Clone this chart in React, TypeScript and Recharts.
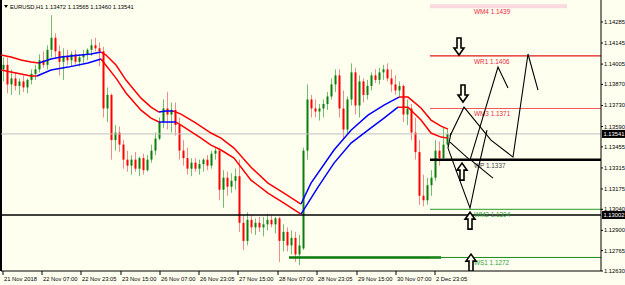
import { ComposedChart, Bar, Line, XAxis, YAxis, ReferenceLine } from 'recharts'

// OHLC per H1 bar (compressed)
const candles: [number, number, number, number][] = [
  [1.1397, 1.1405, 1.1389, 1.1400], [1.1400, 1.1405, 1.1381, 1.1387], [1.1387, 1.1397, 1.1380, 1.1391],
  [1.1391, 1.1395, 1.1383, 1.1386], [1.1386, 1.1391, 1.1380, 1.1389], [1.1389, 1.1393, 1.1382, 1.1385],
  [1.1385, 1.1391, 1.1381, 1.1390], [1.1390, 1.1397, 1.1387, 1.1394], [1.1394, 1.1400, 1.1390, 1.1397],
  [1.1397, 1.1407, 1.1395, 1.1403], [1.1403, 1.1409, 1.1398, 1.1400], [1.1400, 1.1413, 1.1397, 1.1410],
  [1.1410, 1.1433, 1.1405, 1.1418], [1.1418, 1.1421, 1.1405, 1.1409], [1.1409, 1.1413, 1.1393, 1.1402],
  [1.1402, 1.1411, 1.1390, 1.1406], [1.1406, 1.1410, 1.1400, 1.1403], [1.1403, 1.1409, 1.1399, 1.1407],
  [1.1407, 1.1410, 1.1400, 1.1402], [1.1402, 1.1407, 1.1399, 1.1405], [1.1405, 1.1410, 1.1401, 1.1407],
  [1.1407, 1.1411, 1.1403, 1.1410], [1.1410, 1.1417, 1.1406, 1.1413], [1.1413, 1.1418, 1.1409, 1.1411],
  [1.1411, 1.1415, 1.1399, 1.1409], [1.1409, 1.1412, 1.1365, 1.1371], [1.1371, 1.1385, 1.1362, 1.1380],
  [1.1380, 1.1381, 1.1337, 1.1350], [1.1350, 1.1360, 1.1343, 1.1355], [1.1355, 1.1359, 1.1342, 1.1347],
  [1.1347, 1.1350, 1.1331, 1.1337], [1.1337, 1.1343, 1.1329, 1.1333], [1.1333, 1.1340, 1.1327, 1.1337],
  [1.1337, 1.1342, 1.1329, 1.1331], [1.1331, 1.1339, 1.1326, 1.1338], [1.1338, 1.1341, 1.1327, 1.1330],
  [1.1330, 1.1340, 1.1329, 1.1337], [1.1337, 1.1347, 1.1335, 1.1343], [1.1343, 1.1355, 1.1340, 1.1351],
  [1.1351, 1.1365, 1.1350, 1.1362], [1.1362, 1.1377, 1.1358, 1.1371], [1.1371, 1.1382, 1.1357, 1.1367],
  [1.1367, 1.1375, 1.1355, 1.1370], [1.1370, 1.1375, 1.1353, 1.1360], [1.1360, 1.1365, 1.1337, 1.1343],
  [1.1343, 1.1350, 1.1333, 1.1338], [1.1338, 1.1345, 1.1327, 1.1331], [1.1331, 1.1338, 1.1326, 1.1335],
  [1.1335, 1.1338, 1.1329, 1.1331], [1.1331, 1.1337, 1.1327, 1.1334], [1.1334, 1.1338, 1.1329, 1.1337],
  [1.1337, 1.1340, 1.1330, 1.1333], [1.1333, 1.1343, 1.1331, 1.1341], [1.1341, 1.1345, 1.1337, 1.1343],
  [1.1343, 1.1345, 1.1310, 1.1317], [1.1317, 1.1330, 1.1305, 1.1325], [1.1325, 1.1329, 1.1313, 1.1319],
  [1.1319, 1.1328, 1.1315, 1.1323], [1.1323, 1.1331, 1.1317, 1.1326], [1.1326, 1.1337, 1.1289, 1.1295],
  [1.1295, 1.1300, 1.1277, 1.1283], [1.1283, 1.1302, 1.1280, 1.1297], [1.1297, 1.1300, 1.1288, 1.1292],
  [1.1292, 1.1298, 1.1287, 1.1295], [1.1295, 1.1299, 1.1289, 1.1292], [1.1292, 1.1299, 1.1286, 1.1294],
  [1.1294, 1.1301, 1.1290, 1.1297], [1.1297, 1.1300, 1.1292, 1.1294], [1.1294, 1.1299, 1.1288, 1.1298],
  [1.1298, 1.1299, 1.1269, 1.1283], [1.1283, 1.1294, 1.1276, 1.1289], [1.1289, 1.1292, 1.1276, 1.1280],
  [1.1280, 1.1290, 1.1274, 1.1285], [1.1285, 1.1289, 1.1269, 1.1274], [1.1274, 1.1287, 1.1267, 1.1280],
  [1.1278, 1.1345, 1.1277, 1.1343], [1.1343, 1.1387, 1.1337, 1.1377], [1.1377, 1.1380, 1.1365, 1.1371],
  [1.1371, 1.1377, 1.1365, 1.1369], [1.1369, 1.1374, 1.1363, 1.1371], [1.1371, 1.1377, 1.1365, 1.1374],
  [1.1374, 1.1382, 1.1370, 1.1379], [1.1379, 1.1391, 1.1377, 1.1387], [1.1387, 1.1397, 1.1382, 1.1393],
  [1.1393, 1.1397, 1.1365, 1.1371], [1.1371, 1.1383, 1.1350, 1.1357], [1.1357, 1.1379, 1.1354, 1.1377],
  [1.1377, 1.1401, 1.1373, 1.1395], [1.1395, 1.1398, 1.1367, 1.1373], [1.1373, 1.1393, 1.1365, 1.1389],
  [1.1389, 1.1391, 1.1375, 1.1380], [1.1380, 1.1390, 1.1377, 1.1386], [1.1386, 1.1395, 1.1383, 1.1393],
  [1.1393, 1.1397, 1.1388, 1.1390], [1.1390, 1.1398, 1.1387, 1.1395], [1.1395, 1.1400, 1.1390, 1.1397],
  [1.1397, 1.1401, 1.1389, 1.1391], [1.1391, 1.1397, 1.1382, 1.1387], [1.1387, 1.1393, 1.1380, 1.1383],
  [1.1383, 1.1389, 1.1378, 1.1386], [1.1386, 1.1387, 1.1362, 1.1367], [1.1367, 1.1377, 1.1360, 1.1371],
  [1.1371, 1.1374, 1.1350, 1.1355], [1.1355, 1.1365, 1.1337, 1.1342], [1.1342, 1.1350, 1.1307, 1.1313],
  [1.1313, 1.1327, 1.1306, 1.1310], [1.1310, 1.1325, 1.1307, 1.1320], [1.1320, 1.1330, 1.1313, 1.1325],
  [1.1325, 1.1350, 1.1323, 1.1343], [1.1343, 1.1349, 1.1333, 1.1338], [1.1338, 1.1358, 1.1336, 1.1347],
  [1.1347, 1.1357, 1.1346, 1.1354],
]

// moving-average envelope: [bar, price]; colour flips (red <-> blue) at the turn bars
const maUpper: [number, number][] = [
  [0, 1.14065], [2.5, 1.14052], [5, 1.14032], [7.5, 1.14019], [9.5, 1.14012], [12.5, 1.14039],
  [15, 1.14052], [17.5, 1.14059], [20, 1.14065], [22.5, 1.14072], [25, 1.14085], [26.25, 1.14065],
  [28.75, 1.13999], [31.25, 1.13899], [35, 1.13779], [37.5, 1.13719], [39.5, 1.13686], [41.25, 1.13693],
  [43, 1.13693], [45, 1.13673], [48.75, 1.13613], [52.5, 1.13547], [55, 1.13513], [58.25, 1.13447],
  [62.5, 1.1332], [66.75, 1.13214], [70.75, 1.13148], [75, 1.13075], [77.5, 1.13214], [83.25, 1.13434],
  [87.5, 1.13566], [91.75, 1.13666], [95.75, 1.13733], [99.5, 1.13786], [101.75, 1.13786], [105, 1.13713],
  [107.5, 1.13633], [110, 1.13593], [111.75, 1.13573],
]
const maUpperTurns = [9.5, 25, 39.5, 43, 75, 99.5]
const maLower: [number, number][] = [
  [0, 1.13966], [2.5, 1.13952], [5, 1.13939], [7.5, 1.13926], [9, 1.13926], [12.5, 1.13966],
  [16.75, 1.13985], [21.75, 1.14012], [25, 1.14039], [28.75, 1.13912], [31.25, 1.13813], [35, 1.13699],
  [37.5, 1.13646], [39.5, 1.1362], [43.75, 1.1362], [45, 1.136], [50, 1.13513], [52.5, 1.13467],
  [55, 1.13434], [58.25, 1.1338], [62.5, 1.13234], [66.75, 1.13148], [70.75, 1.13081], [75, 1.13008],
  [79.25, 1.13188], [83.25, 1.13347], [87.5, 1.1348], [91.75, 1.13566], [95.75, 1.13646], [99.25, 1.13719],
  [101.75, 1.13719], [105, 1.13633], [107.5, 1.13547], [110, 1.1352], [111.75, 1.13513],
]
const maLowerTurns = [9, 25, 39.5, 43.75, 75, 99.25]

// weekly pivot levels
const levels = [
  { name: 'WM4', price: 1.1439 },
  { name: 'WR1', price: 1.1406 },
  { name: 'WM3', price: 1.1371 },
  { name: 'WP', price: 1.1337 },
  { name: 'WM2', price: 1.1304 },
  { name: 'WS1', price: 1.1272 },
]
const bidPrice = 1.13541
const markPrice = 1.13002

// hand-drawn scenarios: [bar, price]
const scenarios: [number, number][][] = [
  [[112.25, 1.13527], [115.75, 1.13719], [122.5, 1.135], [128, 1.13387], [131.75, 1.14072], [134.25, 1.13832]],
  [[112.25, 1.13487], [117.25, 1.13367], [124.25, 1.13985], [126.75, 1.13846]],
  [[112.5, 1.13547], [111.75, 1.13447], [113.75, 1.133], [117.25, 1.13048], [119.5, 1.13334], [121.5, 1.13566]],
  [[117.5, 1.13367], [123, 1.13247]],
]
const arrowsDown: [number, number][] = [[114.5, 1.14065], [115.5, 1.13753]]
const arrowsUp: [number, number][] = [[115.25, 1.13347], [117.25, 1.13021], [117.5, 1.12742]]

const yTicks = [1.1263, 1.12765, 1.129, 1.1304, 1.13175, 1.13315, 1.13455, 1.1359, 1.1373, 1.1387, 1.14005, 1.14145, 1.14285]
const xTickBars = [0.5, 10.25, 20, 30, 39.75, 49.5, 59.25, 69.25, 79, 89, 98.75, 108.5]
const xTickLabels = ['21 Nov 2018', '22 Nov 07:00', '22 Nov 23:05', '23 Nov 15:00', '26 Nov 07:00', '26 Nov 23:05',
  '27 Nov 15:00', '28 Nov 07:00', '28 Nov 23:05', '29 Nov 15:00', '30 Nov 07:00', '2 Dec 23:05']

const BG = '#fffff0'
const FONT = 'Liberation Sans, Arial, sans-serif'
const BULL = '#0b7d0b'
const BEAR = '#ff0000'

const levelStyle: Record<string, { stroke: string; width: number; text: string; end?: number }> = {
  WM4: { stroke: '#fbd7df', width: 4, text: '#e8283c', end: 141.5 },
  WR1: { stroke: '#e01818', width: 1.2, text: '#e8283c' },
  WM3: { stroke: '#f05a5a', width: 1, text: '#e8283c' },
  WP: { stroke: '#000000', width: 2.5, text: '#444444' },
  WM2: { stroke: '#2a9a2a', width: 1, text: '#2e9e3e' },
  WS1: { stroke: '#1c8a1c', width: 1, text: '#2e9e3e' },
}
const LEVEL_START = 107.25

const chartData = candles.map(([o, h, l, c], i) => ({ x: i + 0.5, o, h, l, c }))
const toPts = (arr: [number, number][]) => arr.map(([x, p]) => ({ x, p }))

function splitByTurns(points: [number, number][], turns: number[]) {
  const segs: [number, number][][] = []
  let cur: [number, number][] = []
  points.forEach((pt) => {
    cur.push(pt)
    if (turns.includes(pt[0])) {
      segs.push(cur)
      cur = [pt]
    }
  })
  segs.push(cur)
  return segs
}

const Candle = (props: any) => {
  const { x, y, width, height, payload } = props
  if (!payload) return null
  const { o, h, l, c } = payload
  const top = Math.min(y, y + height)
  const hh = Math.abs(height)
  const k = h > l ? hh / (h - l) : 0
  const yOf = (v: number) => top + (h - v) * k
  const cx = Math.round(x + width / 2) + 0.5
  const up = c >= o
  const b1 = yOf(Math.max(o, c))
  const b2 = yOf(Math.min(o, c))
  return (
    <g>
      <line x1={cx} x2={cx} y1={top} y2={top + hh} stroke={up ? '#6fbf6f' : '#f58a8a'} strokeWidth={1} />
      <rect x={cx - 1} y={b1} width={2} height={Math.max(1, b2 - b1)} fill={up ? BULL : BEAR} />
    </g>
  )
}

const XTick = ({ x, y, payload }: any) => {
  const idx = xTickBars.indexOf(payload.value)
  return (
    <g>
      <line x1={x} x2={x} y1={y} y2={y + 4} stroke="#000" strokeWidth={1} />
      <text x={x + 1} y={y + 10} fontSize={5.8} fontFamily={FONT} fill="#000" textAnchor="start">
        {xTickLabels[idx]}
      </text>
    </g>
  )
}

const YTick = ({ x, y, payload }: any) => (
  <g>
    <line x1={x} x2={x + 2} y1={y} y2={y} stroke="#000" strokeWidth={1} />
    <text x={x + 3} y={y + 2} fontSize={5.8} fontFamily={FONT} fill="#000" textAnchor="start">
      {payload.value.toFixed(5)}
    </text>
  </g>
)

const PriceBox = ({ viewBox, value }: any) => {
  if (!viewBox) return null
  const bx = viewBox.x + viewBox.width
  return (
    <g>
      <rect x={bx + 1} y={viewBox.y - 4} width={24} height={8} fill="#000" />
      <text x={bx + 2.5} y={viewBox.y + 2} fontSize={5.8} fontFamily={FONT} fill="#fff">
        {value}
      </text>
    </g>
  )
}

const LevelLabel = ({ viewBox, text, color }: any) => {
  if (!viewBox) return null
  return (
    <text x={viewBox.x + 44} y={viewBox.y + 8} fontSize={6.4} fontFamily={FONT} fill={color}>
      {text}
    </text>
  )
}

const Arrow = ({ cx, cy, dir }: any) => {
  if (cx == null || cy == null) return null
  const s = dir === 'down' ? -1 : 1
  const pts = [
    [0, 0], [-5, 7], [-2, 7], [-2, 17], [2, 17], [2, 7], [5, 7],
  ].map(([dx, dy]) => `${cx + dx},${cy + s * dy}`).join(' ')
  return <polygon points={pts} fill={BG} stroke="#000" strokeWidth={1.6} strokeLinejoin="miter" />
}

export default function App() {
  const upperSegs = splitByTurns(maUpper, maUpperTurns)
  const lowerSegs = splitByTurns(maLower, maLowerTurns)
  return (
    <div style={{ position: 'fixed', left: 0, top: 0, width: 625, height: 285, background: BG }}>
      <ComposedChart width={625} height={285} data={chartData} margin={{ top: 0, right: 0, bottom: 0, left: 1 }}>
        <XAxis
          type="number"
          dataKey="x"
          domain={[0, 150]}
          ticks={xTickBars}
          interval={0}
          tick={<XTick />}
          tickLine={false}
          tickSize={0}
          tickMargin={0}
          axisLine={{ stroke: '#000', strokeWidth: 1 }}
          height={14}
          allowDataOverflow
        />
        <YAxis
          orientation="right"
          domain={[1.1263, 1.14431]}
          ticks={yTicks}
          interval={0}
          tick={<YTick />}
          tickLine={false}
          tickSize={0}
          tickMargin={0}
          axisLine={{ stroke: '#000', strokeWidth: 1 }}
          width={24}
          allowDataOverflow
        />
        <ReferenceLine x={0} stroke="#000" strokeWidth={2} />
        <ReferenceLine y={bidPrice} stroke="#c0c0c0" strokeWidth={1} label={<PriceBox value={bidPrice.toFixed(5)} />} />
        <ReferenceLine y={markPrice} stroke="#000" strokeWidth={1.4} label={<PriceBox value={markPrice.toFixed(5)} />} />
        <ReferenceLine
          segment={[{ x: 72, y: levels[5].price }, { x: 110, y: levels[5].price }]}
          stroke="#0a7a0a"
          strokeWidth={2.5}
        />
        {levels.map((lv) => {
          const st = levelStyle[lv.name]
          return (
            <ReferenceLine
              key={lv.name}
              segment={[{ x: LEVEL_START, y: lv.price }, { x: st.end ?? 150, y: lv.price }]}
              stroke={st.stroke}
              strokeWidth={st.width}
              label={<LevelLabel text={`${lv.name} ${lv.price.toFixed(4)}`} color={st.text} />}
            />
          )
        })}
        <Bar dataKey={(d: any) => [d.l, d.h]} shape={<Candle />} barSize={3} isAnimationActive={false} />
        {upperSegs.map((seg, i) => (
          <Line key={`u${i}`} data={toPts(seg)} dataKey="p" type="linear" stroke={i % 2 ? '#0000ff' : '#ff0000'}
            strokeWidth={1.5} dot={false} isAnimationActive={false} />
        ))}
        {lowerSegs.map((seg, i) => (
          <Line key={`l${i}`} data={toPts(seg)} dataKey="p" type="linear" stroke={i % 2 ? '#0000ff' : '#ff0000'}
            strokeWidth={1.5} dot={false} isAnimationActive={false} />
        ))}
        {scenarios.map((path, i) => (
          <Line key={`s${i}`} data={toPts(path)} dataKey="p" type="linear" stroke="#000" strokeWidth={1.1}
            dot={false} isAnimationActive={false} />
        ))}
        <Line data={toPts(arrowsDown)} dataKey="p" stroke="none" isAnimationActive={false}
          dot={(p: any) => <Arrow key={`ad${p.index}`} cx={p.cx} cy={p.cy} dir="down" />} />
        <Line data={toPts(arrowsUp)} dataKey="p" stroke="none" isAnimationActive={false}
          dot={(p: any) => <Arrow key={`au${p.index}`} cx={p.cx} cy={p.cy} dir="up" />} />
      </ComposedChart>
      <svg style={{ position: 'absolute', left: 0, top: 0 }} width={200} height={12}>
        <polygon points="4,5 8,5 6,8" fill="#000" />
        <text x={10} y={8.5} fontSize={5.8} fontFamily={FONT} fill="#000">
          EURUSD,H1  1.13472 1.13565 1.13460 1.13541
        </text>
      </svg>
    </div>
  )
}
